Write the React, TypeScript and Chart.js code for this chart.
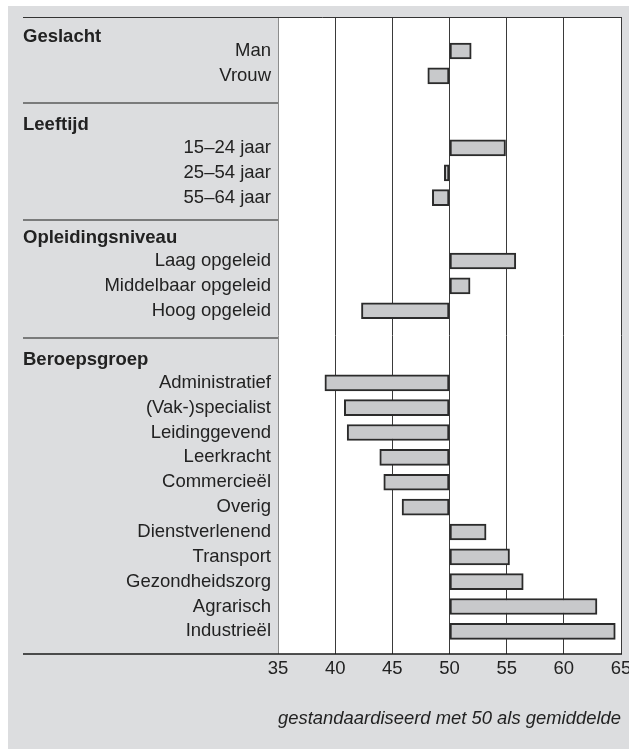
import { useEffect, useRef } from 'react';
import { Chart, registerables } from 'chart.js';

Chart.register(...registerables);

// ---- data ----
const groupTitles = ['Geslacht', 'Leeftijd', 'Opleidingsniveau', 'Beroepsgroep'];

const geslachtLabels = ['Man', 'Vrouw'];
const geslachtValues = [51.9, 48.1];

const leeftijdLabels = ['15–24 jaar', '25–54 jaar', '55–64 jaar'];
const leeftijdValues = [54.9, 49.55, 48.5];

const opleidingLabels = ['Laag opgeleid', 'Middelbaar opgeleid', 'Hoog opgeleid'];
const opleidingValues = [55.8, 51.8, 42.3];

const beroepLabels = [
  'Administratief',
  '(Vak-)specialist',
  'Leidinggevend',
  'Leerkracht',
  'Commercieël',
  'Overig',
  'Dienstverlenend',
  'Transport',
  'Gezondheidszorg',
  'Agrarisch',
  'Industrieël',
];
const beroepValues = [39.1, 40.8, 41.05, 43.9, 44.25, 45.85, 53.2, 55.25, 56.45, 62.9, 64.5];

const xTickValues = [35, 40, 45, 50, 55, 60, 65];
const baseValue = 50;
const axisNote = 'gestandaardiseerd met 50 als gemiddelde';

// ---- layout / style ----
const FONT = '"Liberation Sans", Arial, Helvetica, sans-serif';
const TEXT = '#222222';
const GROUP_GAPS = [2.9, 2.55, 2.9]; // rows between last item of a group and first of next
const FIRST_HEADER_OFFSET = 0.58;
const HEADER_OFFSET = 0.93;
const SEPARATOR_SHIFT = 0.1;
const LEFT_LINE_X = 15;

export default function App() {
  const ref = useRef<HTMLCanvasElement>(null);

  useEffect(() => {
    if (!ref.current) return;
    const groups = [
      { title: groupTitles[0], labels: geslachtLabels, values: geslachtValues },
      { title: groupTitles[1], labels: leeftijdLabels, values: leeftijdValues },
      { title: groupTitles[2], labels: opleidingLabels, values: opleidingValues },
      { title: groupTitles[3], labels: beroepLabels, values: beroepValues },
    ];
    const rows: { label: string; value: number; pos: number }[] = [];
    const info: { title: string; first: number; last: number; header: number }[] = [];
    let pos = 0;
    groups.forEach((g, gi) => {
      if (gi > 0) pos += GROUP_GAPS[gi - 1] - 1;
      const first = pos;
      g.labels.forEach((l, i) => {
        rows.push({ label: l, value: g.values[i], pos });
        pos += 1;
      });
      const header = first - (gi === 0 ? FIRST_HEADER_OFFSET : HEADER_OFFSET);
      info.push({ title: g.title, first, last: pos - 1, header });
    });

    const decor = {
      id: 'decor',
      beforeDraw(chart: any) {
        const { ctx, chartArea } = chart;
        ctx.save();
        ctx.fillStyle = '#ffffff';
        ctx.fillRect(chartArea.left, chartArea.top, chartArea.right - chartArea.left, chartArea.bottom - chartArea.top);
        ctx.restore();
      },
      afterDraw(chart: any) {
        const { ctx, chartArea } = chart;
        const y = chart.scales.y;
        ctx.save();
        // top line
        ctx.strokeStyle = '#333333';
        ctx.lineWidth = 1;
        ctx.beginPath();
        const ty = Math.round(chartArea.top) + 0.5;
        ctx.moveTo(LEFT_LINE_X, ty);
        ctx.lineTo(chartArea.right + 0.5, ty);
        ctx.stroke();
        // bottom line
        ctx.strokeStyle = '#1a1a1a';
        ctx.lineWidth = 1.5;
        ctx.beginPath();
        const by = Math.round(chartArea.bottom);
        ctx.moveTo(LEFT_LINE_X, by);
        ctx.lineTo(chartArea.right + 1, by);
        ctx.stroke();
        // separators (midway between a group's last row and the next header)
        ctx.strokeStyle = '#5a5a5a';
        ctx.lineWidth = 1.5;
        info.forEach((g, gi) => {
          if (gi === info.length - 1) return;
          const mid = (g.last + info[gi + 1].header) / 2 + SEPARATOR_SHIFT;
          const sy = Math.round(y.getPixelForValue(mid));
          ctx.beginPath();
          ctx.moveTo(LEFT_LINE_X, sy);
          ctx.lineTo(chartArea.left, sy);
          ctx.stroke();
        });
        // headers
        ctx.fillStyle = TEXT;
        ctx.font = `bold 18.5px ${FONT}`;
        ctx.textAlign = 'left';
        ctx.textBaseline = 'middle';
        info.forEach((g) => {
          ctx.fillText(g.title, LEFT_LINE_X, y.getPixelForValue(g.header));
        });
        ctx.restore();
      },
    };

    const chart = new Chart(ref.current, {
      type: 'bar',
      data: {
        datasets: [
          {
            data: rows.map((r) => ({ x: r.value, y: r.pos })),
            base: baseValue,
            backgroundColor: '#c8c9cb',
            borderColor: '#2b2b2b',
            borderWidth: 2,
            borderSkipped: false,
            barThickness: 16,
          } as any,
        ],
      },
      options: {
        animation: false,
        responsive: false,
        indexAxis: 'y',
        layout: { padding: { top: 11, right: 27, left: 0, bottom: 0 } },
        plugins: { legend: { display: false }, tooltip: { enabled: false } },
        scales: {
          x: {
            type: 'linear',
            position: 'bottom',
            min: 35,
            max: 65,
            bounds: 'data',
            offset: false,
            afterBuildTicks: (s: any) => {
              s.ticks = xTickValues.map((v) => ({ value: v }));
            },
            ticks: {
              font: { family: FONT, size: 18.5 },
              color: TEXT,
              padding: 4,
              autoSkip: false,
              maxRotation: 0,
            },
            grid: {
              color: (c: any) => (c.tick && c.tick.value === 35 ? '#8c8c8c' : '#3a3a3a'),
              lineWidth: 1,
              drawTicks: false,
              offset: false,
            },
            border: { display: false },
            title: {
              display: true,
              text: axisNote,
              align: 'end',
              color: TEXT,
              font: { family: FONT, size: 18.5, style: 'italic' },
              padding: { top: 0, bottom: 19 },
            },
            afterFit: (s: any) => {
              s.height = 95;
              s.paddingLeft = 0;
              s.paddingRight = 0;
            },
          },
          y: {
            type: 'linear',
            reverse: true,
            min: -1.368,
            max: 24.26,
            bounds: 'data',
            offset: false,
            afterBuildTicks: (s: any) => {
              s.ticks = rows.map((r) => ({ value: r.pos }));
            },
            ticks: {
              autoSkip: false,
              font: { family: FONT, size: 18.5 },
              color: TEXT,
              padding: 7,
              callback: (v: any) => {
                const r = rows.find((rr) => Math.abs(rr.pos - Number(v)) < 1e-6);
                return r ? r.label : '';
              },
            },
            grid: { display: false, drawTicks: false, offset: false },
            border: { display: false },
            afterFit: (s: any) => {
              s.width = 270;
              s.paddingTop = 0;
              s.paddingBottom = 0;
            },
          },
        },
      } as any,
      plugins: [decor],
    });
    return () => chart.destroy();
  }, []);

  return (
    <div
      style={{
        position: 'fixed',
        left: 8,
        top: 6,
        width: 621,
        height: 743,
        overflow: 'hidden',
        background: '#dcdddf',
      }}
    >
      <canvas ref={ref} width={640} height={743} style={{ display: 'block' }} />
    </div>
  );
}
